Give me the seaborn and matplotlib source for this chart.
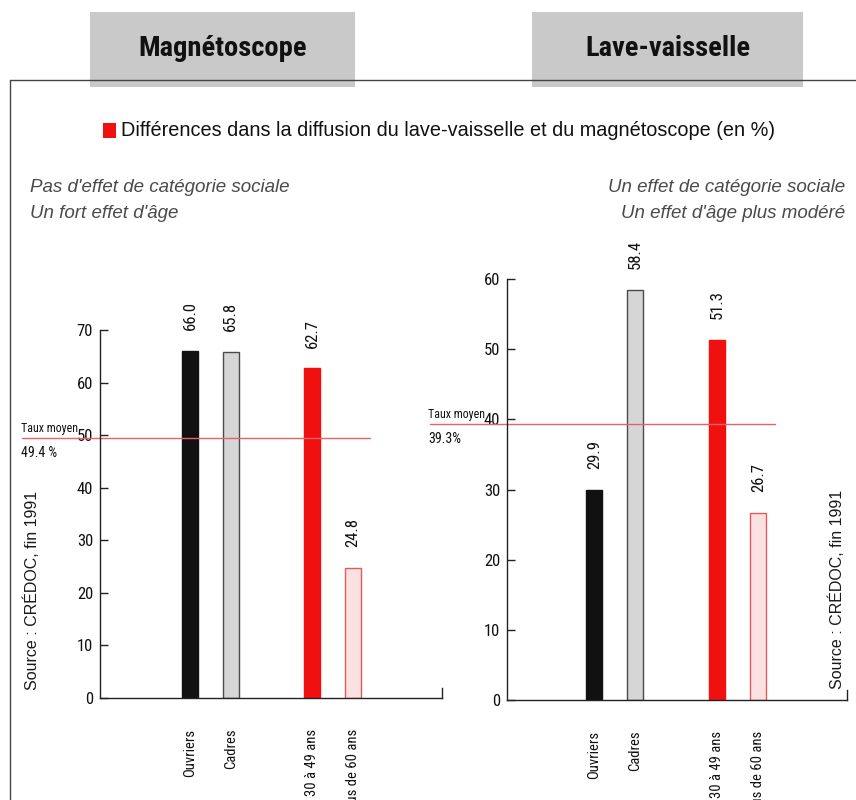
import matplotlib
matplotlib.use("Agg")
import matplotlib.pyplot as plt
import seaborn as sns
import numpy as np
from matplotlib.patches import Rectangle
from matplotlib.lines import Line2D

# categories and values (en %)
categories = ["Ouvriers", "Cadres", "30 à 49 ans", "Plus de 60 ans"]
slots = [0, 1, 3, 4]
magneto = [66.0, 65.8, 62.7, 24.8]
lave = [29.9, 58.4, 51.3, 26.7]
avg_magneto = 49.4
avg_lave = 39.3

bar_colors = ["#111111", "#d6d6d6", "#f01010", "#fbe2e2"]
edge_colors = ["#111111", "#4a4a4a", "#f01010", "#e05a5a"]

sns.set_theme(style="white")
COND = ["Roboto Condensed", "DejaVu Sans"]
plt.rcParams["font.family"] = ["Liberation Sans", "DejaVu Sans"]

W, H = 856, 800
fig = plt.figure(figsize=(W / 100, H / 100), dpi=100)
fig.patch.set_facecolor("white")


def px(x, y):
    # pixel coords of the picture -> figure fraction
    return x / W, 1 - y / H


def ax_rect(x0, x1, ytop, ybot):
    return [x0 / W, 1 - ybot / H, (x1 - x0) / W, (ybot - ytop) / H]


# frame and title boxes
fig.add_artist(Line2D([10 / W, 10 / W], [0, 1 - 80 / H], color="#444444", lw=1))
fig.add_artist(Line2D([10 / W, 1], [1 - 80 / H, 1 - 80 / H], color="#444444", lw=1))
for (x0, x1, title) in [(90, 355, "Magnétoscope"), (532, 803, "Lave-vaisselle")]:
    fig.add_artist(Rectangle(px(x0, 87), (x1 - x0) / W, 75 / H,
                             transform=fig.transFigure, facecolor="#c9c9c9",
                             edgecolor="none"))
    fig.text(*px((x0 + x1) / 2, 48), title, ha="center", va="center",
             fontsize=20.5, fontweight="bold", family=COND, stretch="condensed",
             color="#111111")

# heading
fig.add_artist(Rectangle(px(103, 138), 13 / W, 15 / H, transform=fig.transFigure,
                         facecolor="#f01010", edgecolor="none"))
fig.text(*px(121, 131), "Différences dans la diffusion du lave-vaisselle et du magnétoscope (en %)",
         ha="left", va="center", fontsize=14.3, color="#111111")

# subtitles
sub_kw = dict(fontsize=13.5, style="italic", color="#4a4a4a", va="center")
fig.text(*px(30, 188), "Pas d'effet de catégorie sociale", ha="left", **sub_kw)
fig.text(*px(30, 214), "Un fort effet d'âge", ha="left", **sub_kw)
fig.text(*px(845, 188), "Un effet de catégorie sociale", ha="right", **sub_kw)
fig.text(*px(845, 214), "Un effet d'âge plus modéré", ha="right", **sub_kw)

# source notes
src_kw = dict(rotation=90, ha="center", va="center", fontsize=11.5, color="#1a1a1a")
fig.text(*px(32, 590), "Source : CRÉDOC, fin 1991", **src_kw)
fig.text(*px(837, 589), "Source : CRÉDOC, fin 1991", **src_kw)


def draw_panel(rect, values, avg, ymax, xlim, avg_label, line_span, label_x):
    ax = fig.add_axes(rect)
    ax.set_facecolor("none")
    sns.barplot(x=slots, y=values, hue=categories, palette=bar_colors,
                native_scale=True, dodge=False, width=0.39, legend=False,
                saturation=1, linewidth=1, ax=ax)
    for patch, ec in zip(ax.patches, edge_colors):
        patch.set_edgecolor(ec)
    for cont in ax.containers:
        ax.bar_label(cont, fmt="%.1f", rotation=90, padding=15,
                     fontsize=12, family=COND, stretch="condensed", color="#111111")
    ax.set_xlim(*xlim)
    ax.set_ylim(0, ymax)
    ax.set_yticks(np.arange(0, ymax + 1, 10))
    ax.set_xticks(slots, categories, rotation=90)
    ax.tick_params(axis="x", length=0, pad=22, labelsize=10.5)
    ax.tick_params(axis="y", direction="in", length=6, width=1, color="#222222",
                   pad=5, labelsize=12, left=True)
    for lab in ax.get_xticklabels() + ax.get_yticklabels():
        lab.set_family(COND)
        lab.set_stretch("condensed")
        lab.set_color("#111111")
    sns.despine(ax=ax, top=True, right=False)
    for s in ["left", "bottom", "right"]:
        ax.spines[s].set_color("#222222")
        ax.spines[s].set_linewidth(1)
    ax.spines["right"].set_bounds(0, ymax * 10 / (rect[3] * H))
    ax.set_xlabel("")
    ax.set_ylabel("")
    ax.axhline(avg, xmin=line_span[0], xmax=line_span[1], color="#e8606a",
               lw=1, clip_on=False)
    # average labels, placed relative to the average line
    trans = matplotlib.transforms.blended_transform_factory(fig.transFigure, ax.transData)
    off = matplotlib.transforms.offset_copy
    ax.text(label_x / W, avg, "Taux moyen", ha="left", va="bottom",
            transform=off(trans, fig=fig, y=3, units="dots"),
            fontsize=8.6, family=COND, stretch="condensed", color="#111111")
    ax.text(label_x / W, avg, avg_label, ha="left", va="top",
            transform=off(trans, fig=fig, y=-8, units="dots"),
            fontsize=10, family=COND, stretch="condensed", color="#111111")
    return ax


draw_panel(ax_rect(100, 442, 330, 698), magneto, avg_magneto, 70,
           (-2.21, 6.18), "49.4 %", (-0.228, 0.789), 21)
draw_panel(ax_rect(507, 847, 279, 700), lave, avg_lave, 60,
           (-2.13, 6.16), "39.3%", (-0.226, 0.788), 428)

fig.savefig("out.png", dpi=100)
